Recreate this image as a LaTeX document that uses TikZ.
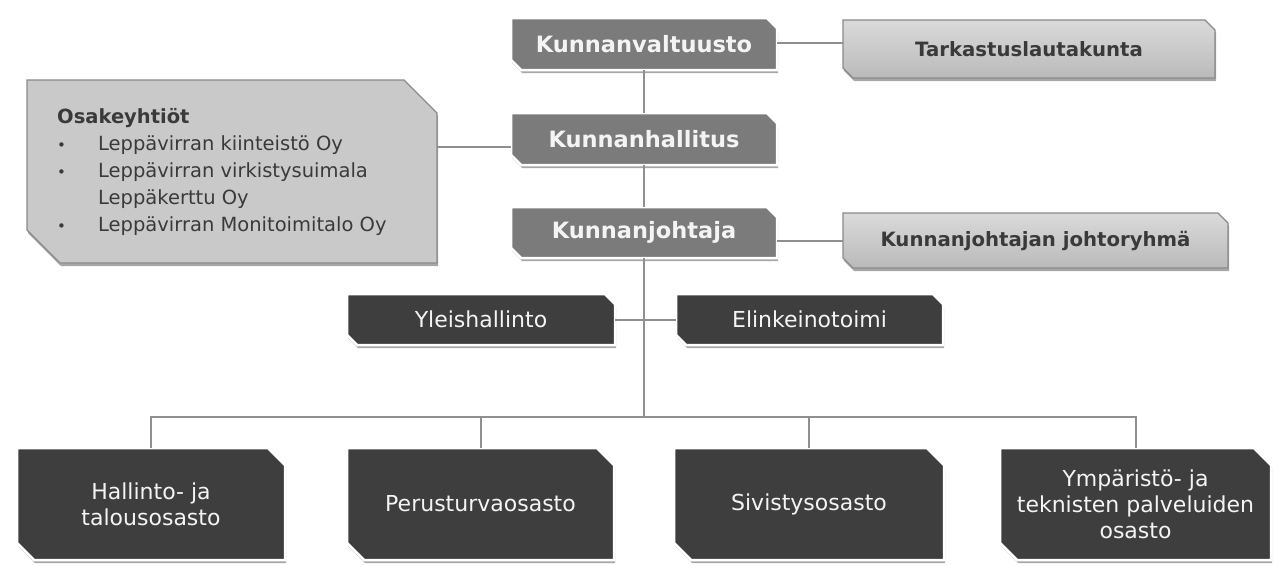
\documentclass[tikz,border=0pt]{standalone}
\usepackage{fontspec}
\setmainfont{DejaVu Sans}
\usetikzlibrary{shadows}
\definecolor{medbox}{HTML}{7B7B7B}
\definecolor{darkbox}{HTML}{3E3E3E}
\definecolor{lightbox}{HTML}{C9C9C9}
\definecolor{lighttop}{HTML}{DADADA}
\definecolor{lightbot}{HTML}{BABABA}
\definecolor{lightedge}{HTML}{8A8A8A}
\definecolor{linecol}{HTML}{8F8F8F}
\definecolor{darktext}{HTML}{3A3A3A}
\definecolor{whitetext}{HTML}{F4F4F4}
\tikzset{
  boxshadow/.style={drop shadow={shadow xshift=1pt, shadow yshift=-3pt, opacity=.35, fill=black}},
  medfill/.style={fill=medbox, draw=white, line width=2.5pt, boxshadow},
  darkfill/.style={fill=darkbox, draw=white, line width=2.5pt, boxshadow},
  lightfill/.style={top color=lighttop, bottom color=lightbot, draw=lightedge, line width=1.2pt, boxshadow},
  osfill/.style={fill=lightbox, draw=lightedge, line width=1.2pt, boxshadow},
  boldwhite/.style={text=whitetext, font=\bfseries\fontsize{22.5}{26}\selectfont},
  boldgray/.style={text=darktext, font=\bfseries\fontsize{19.7}{24}\selectfont},
  plainwhite/.style={text=whitetext, font=\fontsize{22}{26}\selectfont, align=center},
  conn/.style={draw=linecol, line width=2pt},
}
% #1 name, #2 x1, #3 y1, #4 x2, #5 y2, #6 cut, #7 fill style, #8 text style, #9 text
\newcommand\cutbox[9]{%
  \path[#7] (#2,#3) -- ({#4-#6},#3) -- (#4,{#3+#6}) -- (#4,#5) -- ({#2+#6},#5) -- (#2,{#5-#6}) -- cycle;
  \node[#8, inner sep=0pt, minimum width={#4-#2}, minimum height={#5-#3}] (#1) at ({(#2+#4)/2},{(#3+#5)/2}) {#9};
}
\newcommand\blt{\makebox[41pt][l]{{\fontsize{15}{15}\selectfont •}}}
\begin{document}
\begin{tikzpicture}[x=1pt,y=-1pt]
\useasboundingbox[fill=white] (0,0) rectangle (1274,565);
\coordinate (bar) at (644,417);
% boxes
\cutbox{kv}{511}{18}{777}{70}{10}{medfill}{boldwhite}{Kunnanvaltuusto}
\cutbox{tark}{843}{20}{1215}{78}{10}{lightfill}{boldgray}{Tarkastuslautakunta}
\cutbox{osa}{27}{80}{437}{263}{33}{osfill}{}{}
\cutbox{kh}{511}{113}{777}{165}{10}{medfill}{boldwhite}{Kunnanhallitus}
\cutbox{kj}{511}{207}{777}{258}{10}{medfill}{boldwhite}{Kunnanjohtaja}
\cutbox{jr}{843}{213}{1228}{268}{10}{lightfill}{boldgray}{Kunnanjohtajan johtoryhmä}
\cutbox{yh}{347}{294}{615}{345}{10}{darkfill}{plainwhite}{Yleishallinto}
\cutbox{el}{676}{294}{943}{345}{10}{darkfill}{plainwhite}{Elinkeinotoimi}
\cutbox{b1}{17}{448}{285}{560}{17}{darkfill}{plainwhite}{Hallinto- ja\\talousosasto}
\cutbox{b2}{347}{448}{614}{560}{17}{darkfill}{plainwhite}{Perusturvaosasto}
\cutbox{b3}{674}{448}{944}{560}{17}{darkfill}{plainwhite}{Sivistysosasto}
\cutbox{b4}{1000}{448}{1271}{560}{17}{darkfill}{plainwhite}{Ympäristö- ja\\teknisten palveluiden\\osasto}
% list text in Osakeyhtiöt box
\node[anchor=north west, inner sep=0pt, align=left, text=darktext,
      font=\fontsize{19.5}{27}\selectfont] (osatext) at (57,108)
  {\textbf{Osakeyhtiöt}\\
   \blt Leppävirran kiinteistö Oy\\
   \blt Leppävirran virkistysuimala\\
   \hspace*{41pt}Leppäkerttu Oy\\
   \blt Leppävirran Monitoimitalo Oy};
% connectors
\draw[conn] (kv.south) -- (kh.north);
\draw[conn] (kh.south) -- (kj.north);
\draw[conn] ([yshift=1pt]kv.east) -- ([yshift=1pt]kv.east -| tark.west);
\draw[conn] ([yshift=-8pt]kh.west) -- ([yshift=-8pt]kh.west -| osa.east);
\draw[conn] (jr.west) -- (jr.west -| kj.east);
\draw[conn] (kj.south) -- (bar);
\draw[conn] (yh.east) -- (el.west);
\draw[conn] (b1.north) -- (b1.north |- bar) -- (b4.north |- bar) -- (b4.north);
\draw[conn] (b2.north) -- (b2.north |- bar);
\draw[conn] (b3.north) -- (b3.north |- bar);
\end{tikzpicture}
\end{document}
